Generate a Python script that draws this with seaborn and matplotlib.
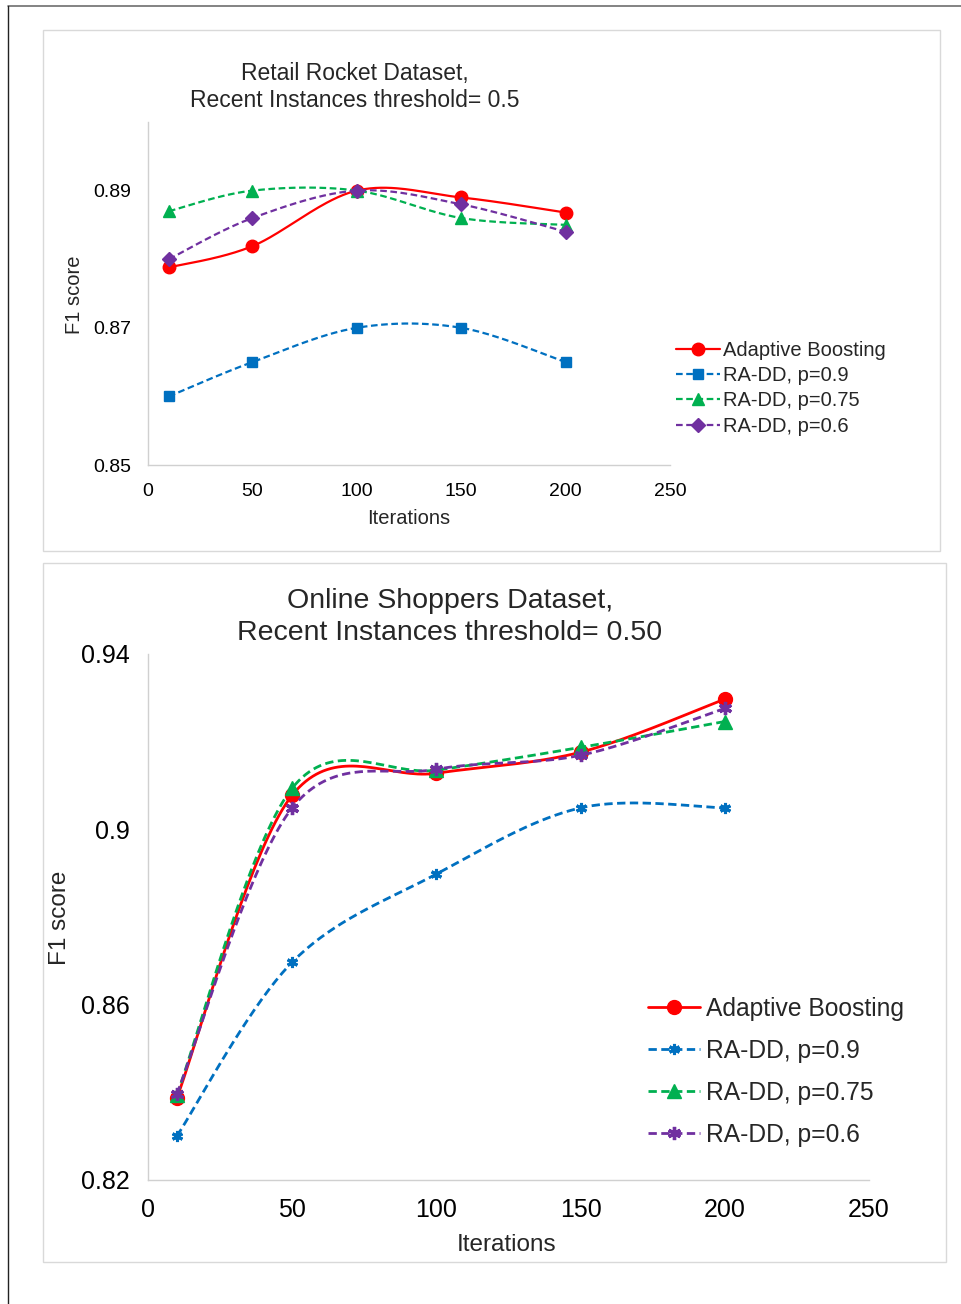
import numpy as np
import pandas as pd
import matplotlib
matplotlib.use("Agg")
import matplotlib.pyplot as plt
from matplotlib.lines import Line2D
from matplotlib.patches import Rectangle
import seaborn as sns

# ---- data -------------------------------------------------------------
iterations = [10, 50, 100, 150, 200]
series_names = ["Adaptive Boosting", "RA-DD, p=0.9", "RA-DD, p=0.75", "RA-DD, p=0.6"]

retail_ab = [0.8788, 0.8819, 0.8900, 0.8890, 0.8868]
retail_p90 = [0.8600, 0.8650, 0.8700, 0.8700, 0.8650]
retail_p75 = [0.8870, 0.8900, 0.8900, 0.8860, 0.8850]
retail_p60 = [0.8800, 0.8860, 0.8900, 0.8880, 0.8840]

shop_ab = [0.8387, 0.9078, 0.9128, 0.9176, 0.9297]
shop_p90 = [0.8300, 0.8697, 0.8898, 0.9049, 0.9049]
shop_p75 = [0.8394, 0.9094, 0.9135, 0.9187, 0.9246]
shop_p60 = [0.8396, 0.9049, 0.9137, 0.9169, 0.9276]

x_ticks = [0, 50, 100, 150, 200, 250]
retail_yticks = [0.85, 0.87, 0.89]
retail_ytick_labels = ["0.85", "0.87", "0.89"]
shop_yticks = [0.82, 0.86, 0.90, 0.94]
shop_ytick_labels = ["0.82", "0.86", "0.9", "0.94"]

colors = ["#FF0000", "#0070C0", "#00B050", "#7030A0"]

# ---- fonts ------------------------------------------------------------
SANS = ["Liberation Sans", "DejaVu Sans"]

sns.set_style("white")
plt.rcParams["font.family"] = SANS


def smooth(xs, ys, n=40):
    """Cardinal (Catmull-Rom style) Bezier smoothing of a polyline."""
    P = np.column_stack([xs, ys]).astype(float)
    ext = np.vstack([P[0], P, P[-1]])
    t = np.linspace(0, 1, n)[:, None]
    parts = []
    for i in range(len(P) - 1):
        p0, p1, p2, p3 = ext[i], ext[i + 1], ext[i + 2], ext[i + 3]
        c1 = p1 + (p2 - p0) / 6.0
        c2 = p2 - (p3 - p1) / 6.0
        B = (1 - t) ** 3 * p1 + 3 * (1 - t) ** 2 * t * c1 + 3 * (1 - t) * t ** 2 * c2 + t ** 3 * p2
        parts.append(B if i == 0 else B[1:])
    return np.vstack(parts)


W, H = 961, 1304
fig = plt.figure(figsize=(W / 100, H / 100), dpi=100)


def fx(px):
    return px / W


def fy(py):
    return 1 - py / H


# page borders
fig.add_artist(Line2D([fx(8), fx(961)], [fy(6), fy(6)], color="#6E6E6E", lw=1.2))
fig.add_artist(Line2D([fx(8), fx(8)], [fy(6), fy(1304)], color="#222222", lw=1.0))
# chart panels
for (x0, y0, x1, y1) in [(43, 30, 940, 551), (43, 563, 946, 1262)]:
    fig.add_artist(Rectangle((fx(x0), fy(y1)), fx(x1) - fx(x0), fy(y0) - fy(y1),
                             fill=False, edgecolor="#D9D9D9", lw=1.0))


def draw_chart(ax, series, markers, msizes, mews, lw, dash, xlim, ylim, yticks, ylabels,
               tick_fs, ypad, xpad, title, title_fs, title_xy, title_ls, xlabel_xy, ylabel_xy,
               label_fs, legend_xy, legend_fs, legend_spacing, handlelen, textpad):
    for vals, name, col, mk, ms, mew in zip(series, series_names, colors, markers, msizes, mews):
        curve = smooth(iterations, vals)
        ls = "-" if name == "Adaptive Boosting" else (0, dash)
        sns.lineplot(x=curve[:, 0], y=curve[:, 1], ax=ax, color=col, lw=lw,
                     linestyle=ls, sort=False, estimator=None, legend=False)
        sns.lineplot(x=iterations, y=vals, ax=ax, color=col, linestyle="none",
                     marker=mk, markersize=ms, markeredgecolor=col,
                     markerfacecolor=col, markeredgewidth=mew,
                     sort=False, estimator=None, legend=False)
    ax.set_xlim(*xlim)
    ax.set_ylim(*ylim)
    ax.set_xticks(x_ticks)
    ax.set_yticks(yticks)
    ax.set_xticklabels([str(v) for v in x_ticks], fontsize=tick_fs)
    ax.set_yticklabels(ylabels, fontsize=tick_fs)
    ax.tick_params(axis="y", length=0, pad=ypad, colors="#000000")
    ax.tick_params(axis="x", length=0, pad=xpad, colors="#000000")
    ax.set_xlabel("")
    ax.set_ylabel("")
    for s in ["top", "right"]:
        ax.spines[s].set_visible(False)
    for s in ["left", "bottom"]:
        ax.spines[s].set_color("#D0D0D0")
        ax.spines[s].set_linewidth(1.0)
    ax.set_facecolor("none")
    ax.grid(False)

    fig.text(fx(title_xy[0]), fy(title_xy[1]), title, ha="center", va="center",
             fontsize=title_fs, linespacing=title_ls)
    fig.text(fx(xlabel_xy[0]), fy(xlabel_xy[1]), "Iterations", ha="center", va="center",
             fontsize=label_fs)
    fig.text(fx(ylabel_xy[0]), fy(ylabel_xy[1]), "F1 score", ha="center", va="center",
             fontsize=label_fs, rotation=90)

    handles = []
    for name, col, mk, ms, mew in zip(series_names, colors, markers, msizes, mews):
        ls = "-" if name == "Adaptive Boosting" else (0, dash)
        handles.append(Line2D([0], [0], color=col, lw=lw, linestyle=ls, marker=mk,
                              markersize=ms, markerfacecolor=col, markeredgecolor=col,
                              markeredgewidth=mew))
    fig.legend(handles=handles, labels=series_names, loc="upper left",
               bbox_to_anchor=(fx(legend_xy[0]), fy(legend_xy[1])),
               bbox_transform=fig.transFigure, frameon=False,
               prop={"size": legend_fs}, handlelength=handlelen,
               handletextpad=textpad, labelspacing=legend_spacing, borderpad=0,
               borderaxespad=0, numpoints=1)


# ---- top chart: Retail Rocket -----------------------------------------
ax1 = fig.add_axes([fx(148), fy(465), fx(670) - fx(148), fy(122) - fy(465)])
draw_chart(ax1, [retail_ab, retail_p90, retail_p75, retail_p60],
           markers=["o", "s", "^", "D"], msizes=[9, 7, 8, 7], mews=[1, 1, 1, 1],
           lw=1.6, dash=(3, 1.6), xlim=(0, 250), ylim=(0.85, 0.90),
           yticks=retail_yticks, ylabels=retail_ytick_labels, tick_fs=14, ypad=12, xpad=13,
           title="Retail Rocket Dataset,\nRecent Instances threshold= 0.5", title_fs=16.5,
           title_xy=(355, 87), title_ls=1.22, xlabel_xy=(409, 518), ylabel_xy=(75, 295),
           label_fs=14.5, legend_xy=(676, 341), legend_fs=14.5, legend_spacing=0.31,
           handlelen=2.2, textpad=0.12)

# ---- bottom chart: Online Shoppers ------------------------------------
ax2 = fig.add_axes([fx(148), fy(1180), fx(869) - fx(148), fy(654) - fy(1180)])
draw_chart(ax2, [shop_ab, shop_p90, shop_p75, shop_p60],
           markers=["o", (6, 2, 0), "^", (6, 2, 0)], msizes=[10, 8, 9.5, 9.5], mews=[1, 2.2, 1, 2.4],
           lw=2.0, dash=(3, 1.6), xlim=(0, 250), ylim=(0.82, 0.94),
           yticks=shop_yticks, ylabels=shop_ytick_labels, tick_fs=18, ypad=13, xpad=13,
           title="Online Shoppers Dataset,\nRecent Instances threshold= 0.50", title_fs=20.5,
           title_xy=(450, 617), title_ls=1.27, xlabel_xy=(507, 1245), ylabel_xy=(60, 918),
           label_fs=17.5, legend_xy=(648, 997), legend_fs=17.7, legend_spacing=0.73,
           handlelen=2.1, textpad=0.25)

fig.savefig("out.png", dpi=100, facecolor="white")
